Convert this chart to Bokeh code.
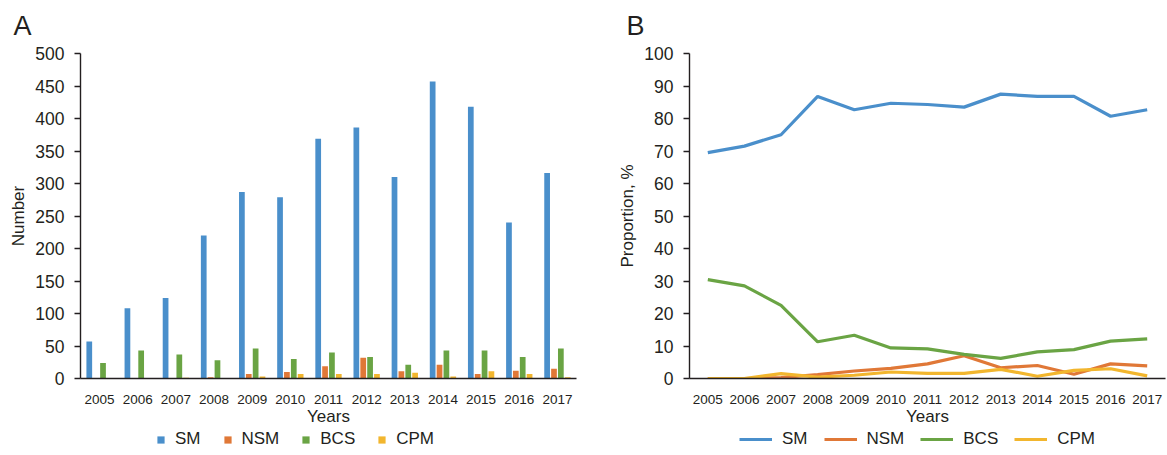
from bokeh.plotting import figure
from bokeh.models import (ColumnDataSource, FactorRange, Range1d, Legend, LegendItem,
                          SingleIntervalTicker)
from bokeh.transform import dodge
from bokeh.layouts import row, column
from bokeh.embed import file_html
from bokeh.resources import INLINE

years = ["2005", "2006", "2007", "2008", "2009", "2010", "2011",
         "2012", "2013", "2014", "2015", "2016", "2017"]

# Panel A: counts
sm_count = [57, 108, 124, 220, 287, 279, 369, 386, 310, 457, 418, 240, 316]
nsm_count = [0, 0, 0, 2, 7, 10, 19, 32, 11, 21, 7, 12, 15]
bcs_count = [24, 43, 37, 28, 46, 30, 40, 33, 21, 43, 43, 33, 46]
cpm_count = [0, 0, 1, 0, 3, 7, 7, 7, 9, 3, 11, 7, 2]

# Panel B: proportions (%)
sm_pct = [69.5, 71.5, 75.0, 86.8, 82.7, 84.7, 84.3, 83.5, 87.5, 86.8, 86.8, 80.7, 82.7]
nsm_pct = [0.0, 0.0, 0.3, 1.2, 2.3, 3.1, 4.5, 7.0, 3.3, 4.0, 1.3, 4.5, 3.9]
bcs_pct = [30.4, 28.5, 22.5, 11.3, 13.3, 9.4, 9.1, 7.4, 6.2, 8.2, 8.9, 11.5, 12.2]
cpm_pct = [0.0, 0.0, 1.5, 0.4, 1.0, 2.0, 1.6, 1.6, 2.8, 0.7, 2.5, 3.0, 0.8]

series = ["SM", "NSM", "BCS", "CPM"]
colors = ["#4a8fcb", "#e07837", "#6aa444", "#f2b62e"]

FONT = "Liberation Sans"
TXT = "#231f20"

MAIN_H = 428
LEG_H = 24


def style(p, ylabel, tick_interval, panel_letter, title_offset):
    p.outline_line_color = None
    p.xgrid.grid_line_color = None
    p.ygrid.grid_line_color = None
    p.background_fill_color = "white"
    p.border_fill_color = "white"
    for ax in (p.xaxis[0], p.yaxis[0]):
        ax.axis_line_color = TXT
        ax.axis_line_width = 1.4
        ax.major_label_text_font = FONT
        ax.axis_label_text_font = FONT
        ax.axis_label_text_font_style = "normal"
        ax.axis_label_text_color = TXT
        ax.major_label_text_color = TXT
        ax.minor_tick_line_color = None
        ax.axis_label_text_font_size = "17px"
    p.xaxis.major_tick_line_color = None
    p.xaxis.major_label_text_font_size = "13.5px"
    p.xaxis.major_label_standoff = 10
    p.xaxis.axis_label = "Years"
    p.xaxis.axis_label_standoff = 0
    p.yaxis.axis_label = ylabel
    p.yaxis.major_label_text_font_size = "17.5px"
    p.yaxis.major_tick_out = 6
    p.yaxis.major_tick_in = 0
    p.yaxis.major_tick_line_color = TXT
    p.yaxis.major_tick_line_width = 1.4
    p.yaxis.major_label_standoff = 10
    p.yaxis.axis_label_standoff = 4
    p.yaxis.ticker = SingleIntervalTicker(interval=tick_interval)
    p.title.text = panel_letter
    p.title.align = "left"
    p.title.vertical_align = "top"
    p.title.offset = title_offset
    p.title.text_font = FONT
    p.title.text_font_size = "27px"
    p.title.text_font_style = "normal"
    p.title.text_color = TXT
    p.title.standoff = 21


def legend_fig(width, x, glyph_w, glyph_h, spacing, kind):
    lf = figure(width=width, height=LEG_H, x_range=Range1d(0, 1), y_range=Range1d(0, 1),
                min_border=0, toolbar_location=None, output_backend="svg")
    lf.axis.visible = False
    lf.grid.visible = False
    lf.outline_line_color = None
    lf.background_fill_color = "white"
    lf.border_fill_color = "white"
    # key-only renderers: their data lie outside the visible range
    dummy = ColumnDataSource(dict(x=[-5, -4], y=[-5, -5], top=[-5, -5]))
    items = []
    for s, c in zip(series, colors):
        if kind == "bar":
            r = lf.vbar(x="x", top="top", width=0.1, source=dummy,
                        fill_color=c, line_color=None)
        else:
            r = lf.line(x="x", y="y", source=dummy, line_color=c, line_width=3.2)
        items.append(LegendItem(label=s, renderers=[r]))
    leg = Legend(items=items, orientation="horizontal", location=(x, 3),
                 glyph_width=glyph_w, glyph_height=glyph_h, label_standoff=10,
                 spacing=spacing, padding=0, margin=0, border_line_color=None,
                 background_fill_alpha=0, label_text_font=FONT,
                 label_text_font_size="17px", label_text_color=TXT,
                 label_height=18)
    lf.add_layout(leg, "center")
    return lf


# ---------------- Panel A ----------------
src = ColumnDataSource(dict(year=years, SM=sm_count, NSM=nsm_count,
                            BCS=bcs_count, CPM=cpm_count))
pa = figure(x_range=FactorRange(factors=years, range_padding=0),
            y_range=Range1d(0, 500), width=599, height=MAIN_H,
            min_border_left=80, min_border_right=23, min_border_top=53,
            min_border_bottom=50, toolbar_location=None, output_backend="svg")
offsets = [-0.27, -0.09, 0.09, 0.27]
for s, c, off in zip(series, colors, offsets):
    pa.vbar(x=dodge("year", off, range=pa.x_range), top=s, width=0.15,
            source=src, fill_color=c, line_color=None)
style(pa, "Number", 50, "A", -67)

# ---------------- Panel B ----------------
srcb = ColumnDataSource(dict(year=years, SM=sm_pct, NSM=nsm_pct,
                             BCS=bcs_pct, CPM=cpm_pct))
pb = figure(x_range=FactorRange(factors=years, range_padding=0),
            y_range=Range1d(0, 100), width=567, height=MAIN_H,
            min_border_left=90, min_border_right=1, min_border_top=53,
            min_border_bottom=50, toolbar_location=None, output_backend="svg")
for s, c in zip(series, colors):
    pb.line(x="year", y=s, source=srcb, line_color=c, line_width=3.2)
style(pb, "Proportion, %", 10, "B", -63)

la = legend_fig(599, 156, 9, 9, 22, "bar")
lb = legend_fig(567, 140, 33, 18, 16, "line")

layout = column(row(pa, pb), row(la, lb))
open("out.html", "w").write(file_html(layout, INLINE))
